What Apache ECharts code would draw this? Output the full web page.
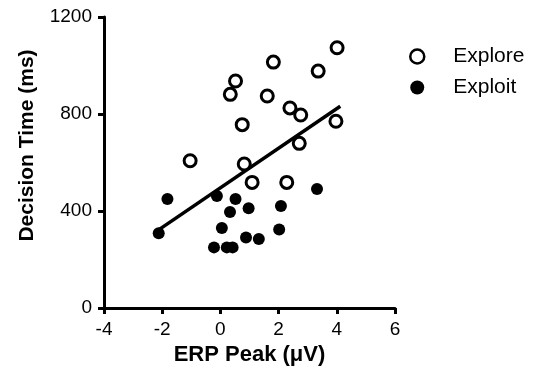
<!DOCTYPE html>
<html>
<head>
<meta charset="utf-8">
<script src="https://cdn.jsdelivr.net/npm/echarts@6/dist/echarts.min.js"></script>
<style>
html,body{margin:0;padding:0;background:#fff;}
#c{width:535px;height:385px;}
</style>
</head>
<body>
<div id="c"></div>
<script>
var exploreX = [4.01, 1.82, 3.36, 0.52, 0.34, 1.61, 2.39, 2.76, 3.97, 0.75, 2.71, -1.04, 0.82, 1.09, 2.28];
var exploreY = [1073, 1014, 977, 936, 881, 874, 825, 796, 770, 756, 679, 607, 594, 518, 518];
var exploitX = [-1.82, -0.12, 0.52, 3.32, 0.33, 0.97, 2.08, 0.05, 2.02, -2.12, 0.88, 1.32, -0.22, 0.22, 0.42];
var exploitY = [449, 462, 449, 491, 396, 411, 421, 330, 324, 308, 291, 285, 250, 250, 250];
var fitX = [-2.25, 4.12];
var fitY = [312, 832];
var xTicks = [-4, -2, 0, 2, 4, 6];
var yTicks = [0, 400, 800, 1200];

function pairs(xs, ys){ return xs.map(function(v,i){ return [v, ys[i]]; }); }

var font = 'Arial, "Liberation Sans", sans-serif';
var chart = echarts.init(document.getElementById('c'), null, {renderer:'canvas'});
chart.setOption({
  animation: false,
  backgroundColor: '#fff',
  grid: {left: 104, right: 140, top: 17, bottom: 77, containLabel: false},
  legend: {
    orient: 'vertical', left: 404, top: 41, itemGap: 10,
    itemWidth: 14, itemHeight: 14,
    textStyle: {fontFamily: font, fontSize: 21, color: '#000', padding: [0,0,0,24]},
    data: [
      {name: 'Explore', icon: 'circle', itemStyle: {color: '#fff', borderColor: '#000', borderWidth: 2.5}},
      {name: 'Exploit', icon: 'circle', itemStyle: {color: '#000', borderWidth: 0}}
    ]
  },
  xAxis: {
    type: 'value', min: xTicks[0], max: xTicks[xTicks.length-1], interval: 2,
    name: 'ERP Peak (μV)', nameLocation: 'middle', nameGap: 35,
    nameTextStyle: {fontFamily: font, fontSize: 22, fontWeight: 'bold', color: '#000'},
    axisLine: {onZero: false, lineStyle: {color: '#000', width: 3}},
    axisTick: {show: true, inside: false, length: 6, lineStyle: {color: '#000', width: 3}},
    axisLabel: {fontFamily: font, fontSize: 19, color: '#000', margin: 12},
    splitLine: {show: false}
  },
  yAxis: {
    type: 'value', min: yTicks[0], max: yTicks[yTicks.length-1], interval: 400,
    name: 'Decision Time (ms)', nameLocation: 'middle', nameGap: 66,
    nameTextStyle: {fontFamily: font, fontSize: 21, fontWeight: 'bold', color: '#000', padding: [0,0,0,34]},
    axisLine: {onZero: false, lineStyle: {color: '#000', width: 3}},
    axisTick: {show: true, inside: false, length: 6, lineStyle: {color: '#000', width: 3}},
    axisLabel: {fontFamily: font, fontSize: 19, color: '#000', margin: 12,
      formatter: function(v){ return String(v); }},
    splitLine: {show: false}
  },
  series: [
    {
      name: 'Fit', type: 'line', data: pairs(fitX, fitY), symbol: 'none',
      lineStyle: {color: '#000', width: 3.5}, z: 1
    },
    {
      name: 'Explore', type: 'scatter', data: pairs(exploreX, exploreY),
      symbol: 'circle', symbolSize: 12,
      itemStyle: {color: '#fff', borderColor: '#000', borderWidth: 3, opacity: 1}, z: 3
    },
    {
      name: 'Exploit', type: 'scatter', data: pairs(exploitX, exploitY),
      symbol: 'circle', symbolSize: 12,
      itemStyle: {color: '#000', opacity: 1}, z: 3
    }
  ]
});
</script>
</body>
</html>
